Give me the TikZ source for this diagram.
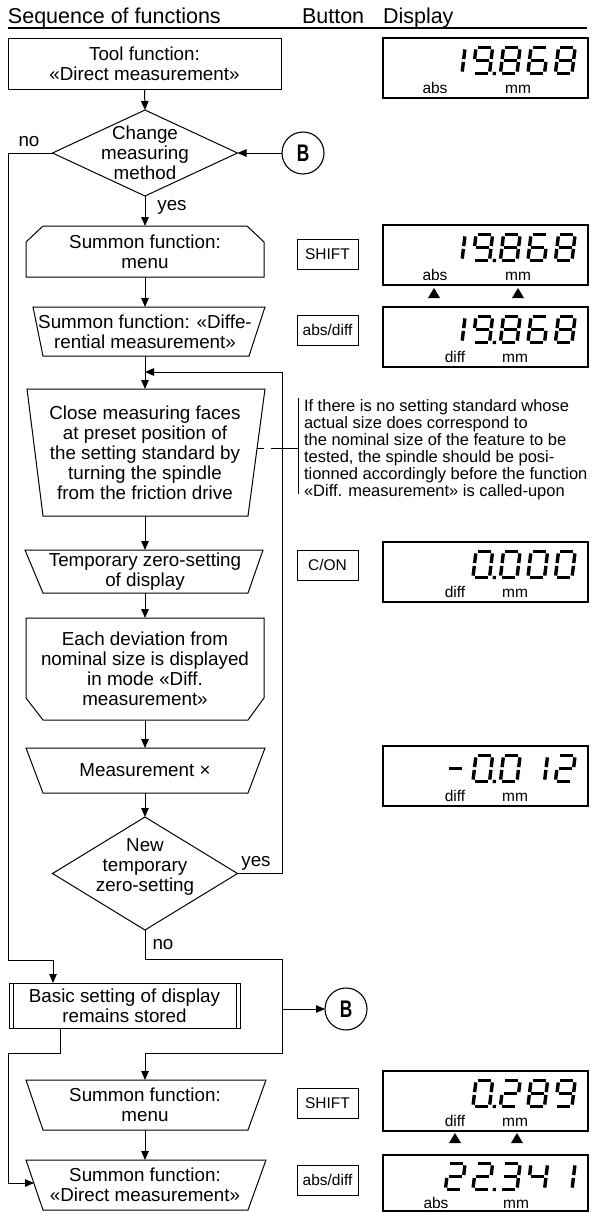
\documentclass[tikz,border=0pt]{standalone}
\usepackage{fontspec}
\setmainfont{Liberation Sans}
\usetikzlibrary{arrows.meta,calc,shapes.geometric}
\newcommand\sgA{\draw[seg] (3.4,1.7) -- (16.6,1.7);}
\newcommand\sgB{\draw[seg] (18.3,3.4) -- (18.3,13.1);}
\newcommand\sgC{\draw[seg] (18.3,15.9) -- (18.3,25.6);}
\newcommand\sgD{\draw[seg] (3.4,27.3) -- (16.6,27.3);}
\newcommand\sgE{\draw[seg] (1.7,15.9) -- (1.7,25.6);}
\newcommand\sgF{\draw[seg] (1.7,3.4) -- (1.7,13.1);}
\newcommand\sgG{\draw[seg] (3.4,14.5) -- (16.6,14.5);}
\def\dZero{A,B,C,D,E,F}
\def\dOne{B,C}
\def\dTwo{A,B,G,E,D}
\def\dThree{A,B,G,C,D}
\def\dFour{F,G,B,C}
\def\dSix{A,F,G,E,C,D}
\def\dEight{A,B,C,D,E,F,G}
\def\dNine{A,B,C,D,F,G}
\def\dMinus{G}
\newcommand\sevdig[3]{\begin{scope}[shift={(#1,#2)},xslant=0.12]\foreach \s in #3 {\csname sg\s\endcsname}\end{scope}}
\newcommand\decpt[2]{\begin{scope}[shift={(#1,#2)},xslant=0.12]\fill (21.5,25.8) rectangle (24.8,29);\end{scope}}
\begin{document}
\begin{tikzpicture}[x=1pt,y=-1pt,
  every node/.style={inner sep=0pt, outer sep=0pt},
  txt/.style={font=\fontsize{18.8}{20}\selectfont, align=center},
  hold/.style={txt, minimum width=238},
  conn/.style={line width=1pt, -{Triangle[length=9pt,width=7.5pt]}},
  wire/.style={line width=1pt},
  shp/.style={line width=1pt},
  btn/.style={draw, line width=1pt, minimum width=61, minimum height=30, font=\fontsize{15.5}{15.5}\selectfont},
  disp/.style={draw, line width=1.1pt, minimum width=205},
  lbl/.style={font=\fontsize{15.5}{15.5}\selectfont, anchor=base},
  seg/.style={line width=3.4pt},
  conB/.style={draw, circle, minimum size=42, line width=1.1pt, font=\fontsize{24}{24}\selectfont},
  dia/.style={draw, diamond, line width=1pt, minimum width=185},
  hdr/.style={font=\fontsize{21.5}{22}\selectfont, anchor=base west},
  yn/.style={font=\fontsize{18.8}{20}\selectfont}
]
\useasboundingbox (0,0) rectangle (592,1213);

% header
\node[hdr] (h1) at (8,23) {Sequence of functions};
\node[hdr] (h2) at (302,23) {Button};
\node[hdr] (h3) at (383,23) {Display};
\draw[line width=1.3pt] (8,28) -- (587,28);

% flow shapes
\node[txt, draw, line width=1pt, minimum width=273, minimum height=51] (tool) at (144.5,63.5) {Tool function:\\«Direct measurement»};

\node[dia, minimum height=86] (d1) at (145,153) {};
\node[txt] (d1t) at (145,153) {Change\\measuring\\method};

\node[conB] (B1) at (303,153) {\scalebox{0.72}[1]{\bfseries B}};

\draw[shp] (26,242) -- (43,226) -- (247,226) -- (264,242) -- (264,277) -- (26,277) -- cycle;
\node[hold, minimum height=51] (hex1) at (145,251.5) {\raisebox{-3pt}{\parbox{238pt}{\centering Summon function:\\menu}}};

\draw[shp] (33,307) -- (265,307) -- (249,356) -- (43,356) -- cycle;
\node[hold, minimum height=49] (trap1) at (145,331.5) {Summon function: «Diffe-\\rential measurement»};

\draw[shp] (27,389) -- (265,389) -- (248,516) -- (43,516) -- cycle;
\node[hold, minimum height=127] (close) at (145,452.5) {Close measuring faces\\at preset position of\\the setting standard by\\turning the spindle\\from the friction drive};

\draw[shp] (25,550) -- (263,550) -- (248,593) -- (43,593) -- cycle;
\node[hold, minimum height=43] (temp) at (145,571.5) {Temporary zero-setting\\of display};

\draw[shp] (26,618) -- (264,618) -- (264,698) -- (248,720) -- (43,720) -- (26,698) -- cycle;
\node[hold, minimum height=102] (hex2) at (145,669) {Each deviation from\\nominal size is displayed\\in mode «Diff.\\measurement»};

\draw[shp] (26,748) -- (265,748) -- (248,793) -- (43,793) -- cycle;
\node[hold, minimum height=45] (meas) at (145,770.5) {Measurement ×};

\node[dia, minimum height=113] (d2) at (145,873.5) {};
\node[txt] (d2t) at (145,867) {New\\temporary\\zero-setting};

\node[txt, draw, line width=1pt, minimum width=231, minimum height=45] (basic) at (124.5,1005.5) {Basic setting of display\\remains stored};
\draw[shp] ($(basic.north west)+(4,0)$) -- ($(basic.south west)+(4,0)$);
\draw[shp] ($(basic.north east)+(-4,0)$) -- ($(basic.south east)+(-4,0)$);

\node[conB] (B2) at (346,1009) {\scalebox{0.72}[1]{\bfseries B}};

\draw[shp] (26,1080) -- (266,1080) -- (248,1130) -- (43,1130) -- cycle;
\node[hold, minimum height=50] (menu2) at (145,1105) {Summon function:\\menu};

\draw[shp] (26,1160) -- (266,1160) -- (248,1210) -- (43,1210) -- cycle;
\node[hold, minimum height=50] (direct) at (145,1185) {Summon function:\\«Direct measurement»};

% connectors
\coordinate (L1) at (8,960);
\coordinate (bin) at ($(basic.north west)+(44,0)$);
\coordinate (R1) at (282,372);
\coordinate (N1) at (145,959);
\coordinate (R2) at (282,1053);
\coordinate (R3) at (282,1009);
\coordinate (bout) at ($(basic.south west)+(51,0)$);
\coordinate (L2) at (8,1053);
\coordinate (dirin) at (34,1183);

\draw[conn] (tool.south) -- (d1.north);
\draw[conn] (d1.west) -| (L1) -| (bin);
\draw[conn] (B1.west) -- (d1.east);
\draw[conn] (d1.south) -- (hex1.north);
\draw[conn] (hex1.south) -- (trap1.north);
\draw[conn] (trap1.south) -- (close.north);
\draw[conn] (d2.east) -| (R1) -- (close.north |- R1);
\draw[conn] (close.south) -- (temp.north);
\draw[conn] (temp.south) -- (hex2.north);
\draw[conn] (hex2.south) -- (meas.north);
\draw[conn] (meas.south) -- (d2.north);
\draw[conn] (d2.south) -- (N1) -| (R2) -| (menu2.north);
\draw[conn] (R3) -- (B2.west);
\draw[conn] (bout) |- (L2) |- (dirin);
\draw[conn] (menu2.south) -- (direct.north);

\node[yn] (no1) at (29,142) {no};
\node[yn] (yes1) at (172,207) {yes};
\node[yn] (yes2) at (256,863) {yes};
\node[yn] (no2) at (163,945) {no};

% note
\coordinate (cr) at (257,448);
\coordinate (nb) at (298,448);
\coordinate (nt1) at (298,398);
\coordinate (nt2) at (298,494);
\draw[wire] (nt1) -- (nt2);
\draw[wire, dash pattern=on 7pt off 7pt on 40pt] (cr) -- (nb);
\node[anchor=north west, align=left, font=\fontsize{16.5}{17}\selectfont] (note) at (304,400) {If there is no setting standard whose\\actual size does correspond to\\the nominal size of the feature to be\\tested, the spindle should be posi-\\tionned accordingly before the function\\«Diff. measurement» is called-upon};

% buttons
\node[btn] (bs1) at (327.5,254) {SHIFT};
\node[btn] (bad1) at (327.5,330) {abs/diff};
\node[btn] (bcon) at (327.5,565) {C/ON};
\node[btn] (bs2) at (327.5,1103.5) {SHIFT};
\node[btn] (bad2) at (327.5,1180) {abs/diff};

% displays
\node[disp, minimum height=60] (D1) at (485.5,68) {};
\node[lbl] (D1a) at (435,93) {abs};
\node[lbl] (D1m) at (518,93) {mm};
\sevdig{447}{46}{\dOne}\sevdig{474.5}{46}{\dNine}\decpt{474.5}{46}\sevdig{502}{46}{\dEight}\sevdig{529.5}{46}{\dSix}\sevdig{557}{46}{\dEight}

\node[disp, minimum height=60] (D2) at (485.5,255) {};
\node[lbl] (D2a) at (435,280) {abs};
\node[lbl] (D2m) at (518,280) {mm};
\sevdig{447}{233}{\dOne}\sevdig{474.5}{233}{\dNine}\decpt{474.5}{233}\sevdig{502}{233}{\dEight}\sevdig{529.5}{233}{\dSix}\sevdig{557}{233}{\dEight}
\fill (428,298) -- (440,298) -- (434,288) -- cycle;
\fill (512,298) -- (524,298) -- (518,288) -- cycle;

\node[disp, minimum height=60] (D3) at (485.5,337) {};
\node[lbl] (D3a) at (455,362) {diff};
\node[lbl] (D3m) at (515,362) {mm};
\sevdig{447}{315}{\dOne}\sevdig{474.5}{315}{\dNine}\decpt{474.5}{315}\sevdig{502}{315}{\dEight}\sevdig{529.5}{315}{\dSix}\sevdig{557}{315}{\dEight}

\node[disp, minimum height=60] (D4) at (485.5,572) {};
\node[lbl] (D4a) at (455,597) {diff};
\node[lbl] (D4m) at (515,597) {mm};
\sevdig{474.5}{550}{\dZero}\decpt{474.5}{550}\sevdig{502}{550}{\dZero}\sevdig{529.5}{550}{\dZero}\sevdig{557}{550}{\dZero}

\node[disp, minimum height=60] (D5) at (485.5,776) {};
\node[lbl] (D5a) at (455,801) {diff};
\node[lbl] (D5m) at (515,801) {mm};
\sevdig{447}{754}{\dMinus}\sevdig{474.5}{754}{\dZero}\decpt{474.5}{754}\sevdig{502}{754}{\dZero}\sevdig{529.5}{754}{\dOne}\sevdig{557}{754}{\dTwo}

\node[disp, minimum height=60] (D6) at (485.5,1101) {};
\node[lbl] (D6a) at (455,1126) {diff};
\node[lbl] (D6m) at (515,1126) {mm};
\sevdig{474.5}{1079}{\dZero}\decpt{474.5}{1079}\sevdig{502}{1079}{\dTwo}\sevdig{529.5}{1079}{\dEight}\sevdig{557}{1079}{\dNine}
\fill (449,1143) -- (461,1143) -- (455,1133) -- cycle;
\fill (511,1143) -- (523,1143) -- (517,1133) -- cycle;

\node[disp, minimum height=56] (D7) at (485.5,1183) {};
\node[lbl] (D7a) at (436,1208) {abs};
\node[lbl] (D7m) at (516,1208) {mm};
\sevdig{447}{1162}{\dTwo}\sevdig{474.5}{1162}{\dTwo}\decpt{474.5}{1162}\sevdig{502}{1162}{\dThree}\sevdig{529.5}{1162}{\dFour}\sevdig{557}{1162}{\dOne}
\end{tikzpicture}
\end{document}
